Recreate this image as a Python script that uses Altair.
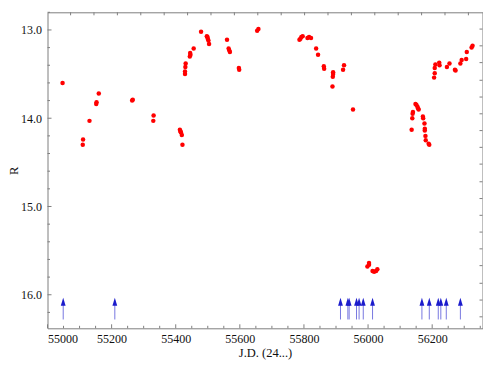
import altair as alt
import pandas as pd

# ---- data ----
obs_jd = [55047, 55110, 55111, 55131, 55152, 55153, 55160, 55264, 55266, 55330, 55331,
          55413, 55415, 55416, 55419, 55421, 55429, 55429, 55430, 55431, 55444, 55445,
          55446, 55456, 55479, 55497, 55499, 55500, 55502, 55504, 55560, 55565, 55567,
          55569, 55597, 55598, 55654, 55658, 55786, 55789, 55792, 55796, 55811, 55816,
          55822, 55838, 55844, 55862, 55863, 55891, 55891, 55890, 55889, 55922, 55925,
          55953, 56003, 56003, 55998, 56014, 56019, 56025, 56029, 56136, 56138, 56139,
          56140, 56148, 56151, 56154, 56156, 56158, 56171, 56172, 56176, 56177, 56177,
          56179, 56180, 56189, 56191, 56206, 56208, 56208, 56210, 56222, 56223, 56246,
          56254, 56271, 56273, 56288, 56292, 56306, 56308, 56323, 56326]
obs_mag = [13.60, 14.30, 14.24, 14.03, 13.84, 13.82, 13.72, 13.80, 13.79, 14.03, 13.97,
           14.13, 14.15, 14.16, 14.19, 14.30, 13.50, 13.47, 13.42, 13.38, 13.30, 13.26,
           13.28, 13.21, 13.02, 13.07, 13.08, 13.10, 13.12, 13.16, 13.11, 13.21, 13.23,
           13.25, 13.43, 13.45, 13.01, 12.99, 13.11, 13.10, 13.08, 13.07, 13.09, 13.08,
           13.09, 13.21, 13.28, 13.41, 13.44, 13.48, 13.50, 13.53, 13.64, 13.45, 13.40,
           13.90, 15.64, 15.66, 15.68, 15.73, 15.74, 15.73, 15.71, 14.13, 14.00, 13.95,
           13.93, 13.84, 13.85, 13.87, 13.89, 13.90, 13.98, 14.00, 14.06, 14.12, 14.14,
           14.20, 14.25, 14.29, 14.30, 13.54, 13.49, 13.43, 13.39, 13.37, 13.40, 13.42,
           13.38, 13.45, 13.46, 13.38, 13.34, 13.33, 13.25, 13.20, 13.18]

lim_jd = [55049, 55210, 55914, 55937, 55941, 55964, 55972, 55985, 56014,
          56168, 56191, 56219, 56227, 56244, 56288]
lim_mag = [16.28] * len(lim_jd)
arrow_len = 0.20

x_labels = [55000, 55200, 55400, 55600, 55800, 56000, 56200]
x_minor = [55050, 55100, 55150, 55250, 55300, 55350, 55450, 55500, 55550, 55650, 55700,
           55750, 55850, 55900, 55950, 56050, 56100, 56150, 56250, 56300, 56350]
y_labels = [13.0, 14.0, 15.0, 16.0]
y_minor = [12.8, 13.2, 13.4, 13.6, 13.8, 14.2, 14.4, 14.6, 14.8, 15.2, 15.4, 15.6,
           15.8, 16.2]
top_ticks = [55072, 55145, 55218, 55291, 55364, 55437, 55510, 55583, 55656, 55729,
             55802, 55875, 55948, 56021, 56094, 56167, 56240, 56313]
right_ticks = [12.99, 13.18, 13.37, 13.57, 13.76, 13.95, 14.14, 14.33, 14.52, 14.72,
               14.91, 15.10, 15.29, 15.48, 15.67, 15.87, 16.06, 16.25]

W, H = 435, 316
FONT = "Liberation Serif"
FRAME = "#7f7f7f"

xs = alt.Scale(domain=[55000, 56357], nice=False, zero=False)
ys = alt.Scale(domain=[12.80, 16.38], nice=False, zero=False, reverse=True)

x_axis = alt.Axis(
    values=x_labels, format="d", ticks=False, tickSize=0, domain=False, grid=False,
    labelFont=FONT, labelFontSize=12, labelColor="#111", labelPadding=5,
    title="J.D. (24...)", titleFont=FONT, titleFontSize=12.5, titleFontWeight="normal",
    titleColor="#111", titlePadding=2)
y_axis = alt.Axis(
    values=y_labels, format=".1f", ticks=False, tickSize=0, domain=False, grid=False,
    labelFont=FONT, labelFontSize=12, labelColor="#111", labelPadding=6,
    title="R", titleFont=FONT, titleFontSize=12.5, titleFontWeight="normal",
    titleColor="#111", titlePadding=0.5)


def X(field="jd"):
    return alt.X(f"{field}:Q", scale=xs, axis=x_axis, title="J.D. (24...)")


def Y(field="mag"):
    return alt.Y(f"{field}:Q", scale=ys, axis=y_axis, title="R")


obs = pd.DataFrame({"jd": obs_jd, "mag": obs_mag})
lim = pd.DataFrame({"jd": lim_jd, "mag": lim_mag})

points = alt.Chart(obs).mark_circle(size=20, color="#ff0000", opacity=1).encode(
    x=X(), y=Y())

stems = alt.Chart(lim).transform_calculate(tip=f"datum.mag - {arrow_len}").mark_rule(
    color="#7878e0", strokeWidth=1).encode(x=X(), y=Y(), y2="tip:Q")
heads = alt.Chart(lim).transform_calculate(tip=f"datum.mag - {arrow_len}").mark_point(
    shape="M0,-1L0.6,1L-0.6,1Z", filled=True, size=64, color="#1c1ccc", opacity=1).encode(
    x=X(), y=Y("tip"))


def vticks(vals, y0, y1, w=1):
    d = pd.DataFrame({"jd": vals})
    return alt.Chart(d).mark_rule(color=FRAME, strokeWidth=w).encode(
        x=X(), y=alt.value(y0), y2=alt.value(y1))


def hticks(vals, x0, x1, w=1):
    d = pd.DataFrame({"mag": vals})
    return alt.Chart(d).mark_rule(color=FRAME, strokeWidth=w).encode(
        y=Y(), x=alt.value(x0), x2=alt.value(x1))


tick_layers = [
    vticks(x_labels, H, H - 4),
    vticks(x_minor, H, H - 2.5),
    vticks(top_ticks, 0, 3),
    hticks(y_labels, 0, 4),
    hticks(y_minor, 0, 2.5),
    hticks(right_ticks, W, W - 3),
]

chart = alt.layer(points, stems, heads, *tick_layers).properties(
    width=W, height=H,
    padding={"left": 39.5, "top": 4.3, "right": 0, "bottom": 31.7},
    autosize=alt.AutoSizeParams(type="none"),
    background="white",
).configure_view(stroke=FRAME, strokeWidth=1)

chart.save("out.html", embed_options={"renderer": "svg", "actions": False})
